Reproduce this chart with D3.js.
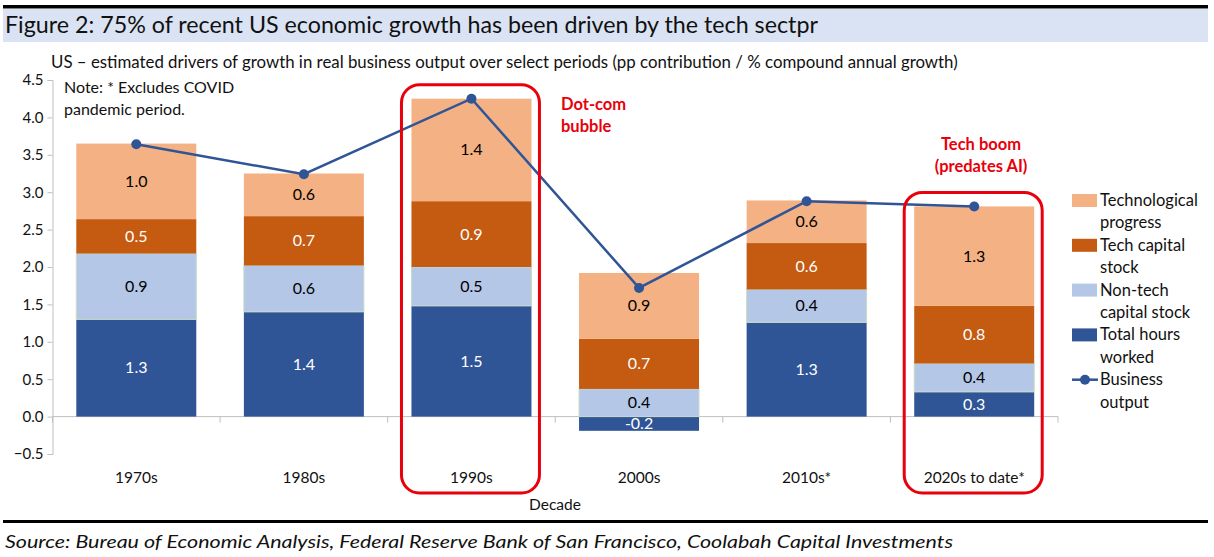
<!DOCTYPE html>
<html>
<head>
<meta charset="utf-8">
<script src="https://cdn.jsdelivr.net/npm/d3@7"></script>
<style>
  html, body { margin: 0; padding: 0; background: #fff; }
  svg { display: block; }
  text { font-family: Lato, "Open Sans", sans-serif; }
</style>
</head>
<body>
<svg id="chart" width="1214" height="557"></svg>
<script>
// ---- data ----
const categories = ["1970s", "1980s", "1990s", "2000s", "2010s*", "2020s to date*"];
const totalHours = [1.30, 1.40, 1.48, -0.19, 1.26, 0.33];
const nonTechCapital = [0.88, 0.62, 0.52, 0.37, 0.44, 0.38];
const techCapital = [0.46, 0.66, 0.88, 0.67, 0.62, 0.77];
const techProgress = [1.01, 0.57, 1.37, 0.88, 0.57, 1.33];
const businessOutput = [3.64, 3.24, 4.25, 1.72, 2.88, 2.81];
const yTicks = [-0.5, 0, 0.5, 1, 1.5, 2, 2.5, 3, 3.5, 4, 4.5];
const seriesNames = ["Total hours worked", "Non-tech capital stock", "Tech capital stock", "Technological progress"];
const legendLabels = [
  ["Technological", "progress"],
  ["Tech capital", "stock"],
  ["Non-tech", "capital stock"],
  ["Total hours", "worked"],
  ["Business", "output"]
];
const highlighted = ["1990s", "2020s to date*"];

const colors = {
  "Technological progress": "#f4b183",
  "Tech capital stock": "#c55a11",
  "Non-tech capital stock": "#b4c7e7",
  "Total hours worked": "#2f5597"
};
const labelColors = {
  "Technological progress": "#000",
  "Tech capital stock": "#fff",
  "Non-tech capital stock": "#000",
  "Total hours worked": "#fff"
};
const lineColor = "#2f5597";

const rows = categories.map((c, i) => ({
  cat: c,
  "Total hours worked": totalHours[i],
  "Non-tech capital stock": nonTechCapital[i],
  "Tech capital stock": techCapital[i],
  "Technological progress": techProgress[i],
  output: businessOutput[i]
}));

const svg = d3.select("#chart");

// ---- header ----
svg.append("rect").attr("x", 3).attr("y", 5).attr("width", 1205).attr("height", 3.5).attr("fill", "#000");
svg.append("rect").attr("x", 3).attr("y", 9).attr("width", 1205).attr("height", 33).attr("fill", "#dae3f3");
const title = svg.append("text").attr("x", 5).attr("y", 33)
  .attr("font-size", 23).attr("fill", "#111")
  .text("Figure 2: 75% of recent US economic growth has been driven by the tech sectpr");
function fit(sel, w) {
  const len = sel.node().getComputedTextLength();
  const fs = +sel.attr("font-size");
  sel.attr("font-size", fs * w / len);
}
fit(title, 813);

const sub = svg.append("text").attr("x", 51).attr("y", 68).attr("font-size", 15).attr("fill", "#111")
  .text("US \u2013 estimated drivers of growth in real business output over select periods (pp contribution / % compound annual growth)");
fit(sub, 907);

// ---- scales ----
const x = d3.scaleBand().domain(categories).range([52.5, 1058]).paddingInner(0.284).paddingOuter(0.142);
const y = d3.scaleLinear().domain([-0.5, 4.5]).range([454, 80]);

// ---- axes ----
const yAxis = d3.axisLeft(y).tickValues(yTicks).tickSize(5).tickPadding(4).tickFormat(d3.format(".1f"));
const gy = svg.append("g").attr("transform", "translate(52.5,0)").call(yAxis);
gy.select(".domain").attr("stroke", "#bfbfbf");
gy.selectAll(".tick line").attr("stroke", "#bfbfbf");
gy.selectAll(".tick text").attr("font-size", 15).attr("fill", "#111").attr("font-family", "Lato, sans-serif");

// x axis line at zero with boundary ticks
const gx = svg.append("g").attr("transform", `translate(0,${y(0)})`);
gx.append("line").attr("x1", 52.5).attr("x2", 1058).attr("stroke", "#bfbfbf");
const step = x.step();
const boundaries = d3.range(categories.length + 1).map(i => 52.5 + i * step);
gx.selectAll(".bt").data(boundaries).join("line")
  .attr("x1", d => d).attr("x2", d => d).attr("y1", 0).attr("y2", 6).attr("stroke", "#bfbfbf");

// category labels
svg.selectAll(".cat").data(categories).join("text")
  .attr("x", d => x(d) + x.bandwidth() / 2).attr("y", 483)
  .attr("text-anchor", "middle").attr("font-size", 15.5).attr("fill", "#111")
  .text(d => d);
svg.append("text").attr("x", 555).attr("y", 510).attr("text-anchor", "middle")
  .attr("font-size", 15.5).attr("fill", "#111").text("Decade");

// ---- stacked bars ----
const stack = d3.stack().keys(seriesNames).offset(d3.stackOffsetDiverging);
const stacked = stack(rows);
const layers = svg.append("g").selectAll("g").data(stacked).join("g")
  .attr("fill", d => colors[d.key]);
layers.selectAll("rect").data(d => d.map(s => ({ s, key: d.key }))).join("rect")
  .attr("x", d => x(d.s.data.cat))
  .attr("width", x.bandwidth())
  .attr("y", d => y(Math.max(d.s[0], d.s[1])))
  .attr("height", d => Math.abs(y(d.s[0]) - y(d.s[1])))
  .attr("stroke", d => d.key === "Non-tech capital stock" ? "#c9dcc3" : "none")
  .attr("stroke-width", 1);

// data labels
const labG = svg.append("g");
stacked.forEach(layer => {
  layer.forEach(s => {
    const v = s.data[layer.key];
    labG.append("text")
      .attr("x", x(s.data.cat) + x.bandwidth() / 2)
      .attr("y", (y(s[0]) + y(s[1])) / 2 + 5.5)
      .attr("text-anchor", "middle").attr("font-size", 16)
      .attr("fill", labelColors[layer.key])
      .text(v.toFixed(1));
  });
});

// ---- line ----
const line = d3.line().x(d => x(d.cat) + x.bandwidth() / 2).y(d => y(d.output));
svg.append("path").datum(rows).attr("d", line).attr("fill", "none")
  .attr("stroke", lineColor).attr("stroke-width", 2.5);
svg.selectAll(".dot").data(rows).join("circle")
  .attr("cx", d => x(d.cat) + x.bandwidth() / 2).attr("cy", d => y(d.output))
  .attr("r", 5).attr("fill", lineColor);

// ---- highlight boxes ----
rows.filter(r => highlighted.includes(r.cat)).forEach(r => {
  const top = y(r.output) - 14;
  svg.append("rect")
    .attr("x", x(r.cat) - 10).attr("y", top)
    .attr("width", x.bandwidth() + 18).attr("height", 493 - top)
    .attr("rx", 18).attr("ry", 18)
    .attr("fill", "none").attr("stroke", "#e8000b").attr("stroke-width", 3);
});

// annotations
const ann = [
  { lines: ["Dot-com", "bubble"], x: 561, y: 110, anchor: "start" },
  { lines: ["Tech boom", "(predates AI)"], x: 981, y: 150, anchor: "middle" }
];
ann.forEach(a => {
  a.lines.forEach((t, i) => {
    svg.append("text").attr("x", a.x).attr("y", a.y + i * 22)
      .attr("text-anchor", a.anchor).attr("font-size", 16.5).attr("font-weight", "bold")
      .attr("fill", "#e8000b").text(t);
  });
});

// note
["Note: * Excludes COVID", "pandemic period."].forEach((t, i) => {
  svg.append("text").attr("x", 64).attr("y", 93 + i * 22).attr("font-size", 16).attr("fill", "#111").text(t);
});

// ---- legend ----
const legendKeys = ["Technological progress", "Tech capital stock", "Non-tech capital stock", "Total hours worked", "output"];
const lg = svg.append("g");
legendKeys.forEach((k, i) => {
  const base = 206 + i * 44.8;
  if (k === "output") {
    lg.append("line").attr("x1", 1072).attr("x2", 1098).attr("y1", base - 5.5).attr("y2", base - 5.5)
      .attr("stroke", lineColor).attr("stroke-width", 2.5);
    lg.append("circle").attr("cx", 1085).attr("cy", base - 5.5).attr("r", 5).attr("fill", lineColor);
  } else {
    lg.append("rect").attr("x", 1072).attr("y", base - 12).attr("width", 25).attr("height", 13)
      .attr("fill", colors[k]);
  }
  legendLabels[i].forEach((t, j) => {
    lg.append("text").attr("x", 1100).attr("y", base + j * 22.4).attr("font-size", 16.5)
      .attr("fill", "#111").text(t);
  });
});

// ---- footer ----
svg.append("rect").attr("x", 3).attr("y", 520).attr("width", 1205).attr("height", 3).attr("fill", "#000");
svg.append("text").attr("x", 5).attr("y", 548).attr("font-size", 18).attr("font-style", "italic")
  .attr("fill", "#111").attr("textLength", 948).attr("lengthAdjust", "spacingAndGlyphs")
  .text("Source: Bureau of Economic Analysis, Federal Reserve Bank of San Francisco, Coolabah Capital Investments");
</script>
</body>
</html>
